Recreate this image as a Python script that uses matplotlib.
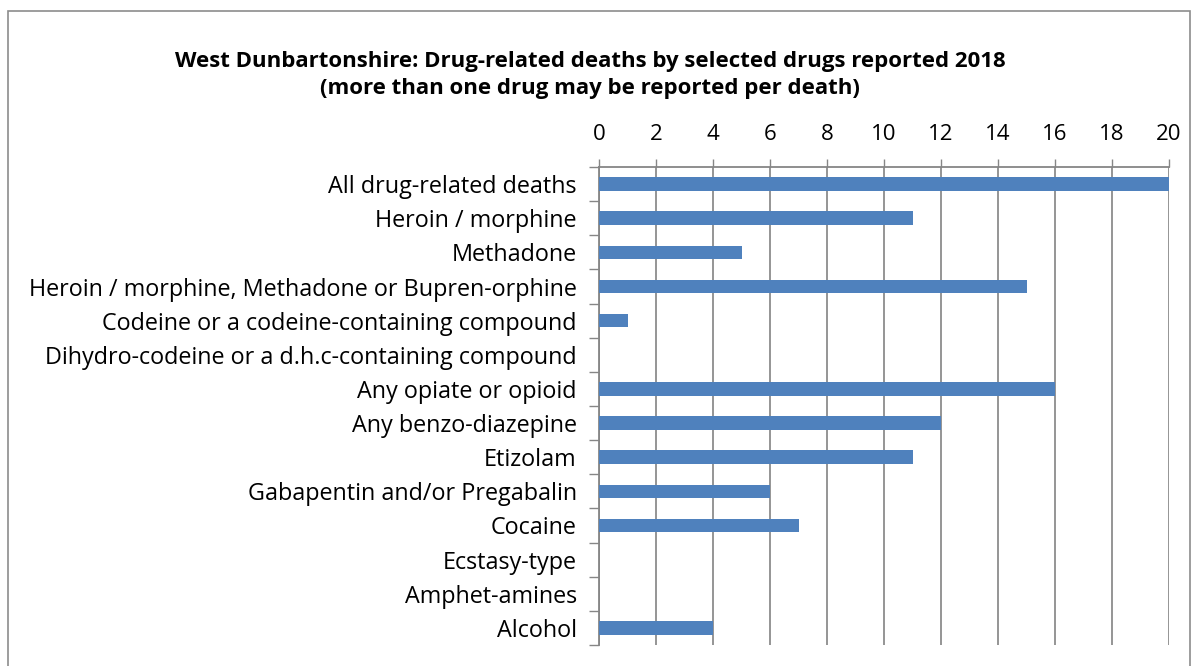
import matplotlib.pyplot as plt
from matplotlib.patches import Rectangle

plt.rcParams['font.family'] = ['Open Sans', 'DejaVu Sans']

categories = [
    'All drug-related deaths',
    'Heroin / morphine',
    'Methadone',
    'Heroin / morphine, Methadone or Bupren-orphine',
    'Codeine or a codeine-containing compound',
    'Dihydro-codeine or a d.h.c-containing compound',
    'Any opiate or opioid',
    'Any benzo-diazepine',
    'Etizolam',
    'Gabapentin and/or Pregabalin',
    'Cocaine',
    'Ecstasy-type',
    'Amphet-amines',
    'Alcohol',
]
deaths = [20, 11, 5, 15, 1, 0, 16, 12, 11, 6, 7, 0, 0, 4]
x_ticks = list(range(0, 21, 2))

W, H = 1198, 666
fig = plt.figure(figsize=(W / 100, H / 100), dpi=100)

# outer chart frame (bottom edge runs off the image)
fig.add_artist(Rectangle((8 / W, -0.05), (1190 - 8) / W, 1 - 11 / H + 0.05,
                         transform=fig.transFigure, fill=False,
                         edgecolor='#8c8c8c', linewidth=1.2))

ax = fig.add_axes([599 / W, 1 - 645 / H, (1169 - 599) / W, (645 - 167) / H])

y = list(range(len(categories)))
ax.barh(y, deaths, height=0.4, color='#4f81bd', zorder=3)

ax.set_xlim(0, 20)
ax.set_ylim(len(categories) - 0.5, -0.5)
ax.xaxis.tick_top()
ax.set_xticks(x_ticks)
ax.set_xticklabels([str(t) for t in x_ticks], fontsize=16)
ax.tick_params(axis='x', length=6, color='#868686', width=1, pad=10)
ax.grid(axis='x', color='#8c8c8c', linewidth=1.3, zorder=0)

ax.set_yticks(y)
ax.set_yticklabels(categories, fontsize=16.8)
ax.tick_params(axis='y', length=0, pad=16)
ax.set_yticks([i - 0.5 for i in range(len(categories) + 1)], minor=True)
ax.tick_params(axis='y', which='minor', length=7, color='#868686', width=1)

for side in ['right', 'bottom']:
    ax.spines[side].set_visible(False)
ax.spines['left'].set_color('#868686')
ax.spines['top'].set_color('#868686')
ax.spines['left'].set_linewidth(1.3)
ax.spines['top'].set_linewidth(1.3)

fig.text(590 / W, 1 - 75 / H,
         'West Dunbartonshire: Drug-related deaths by selected drugs reported 2018\n'
         '(more than one drug may be reported per death)',
         ha='center', va='center', fontsize=16, fontweight='bold', linespacing=1.4)

fig.savefig('out.png', dpi=100)
